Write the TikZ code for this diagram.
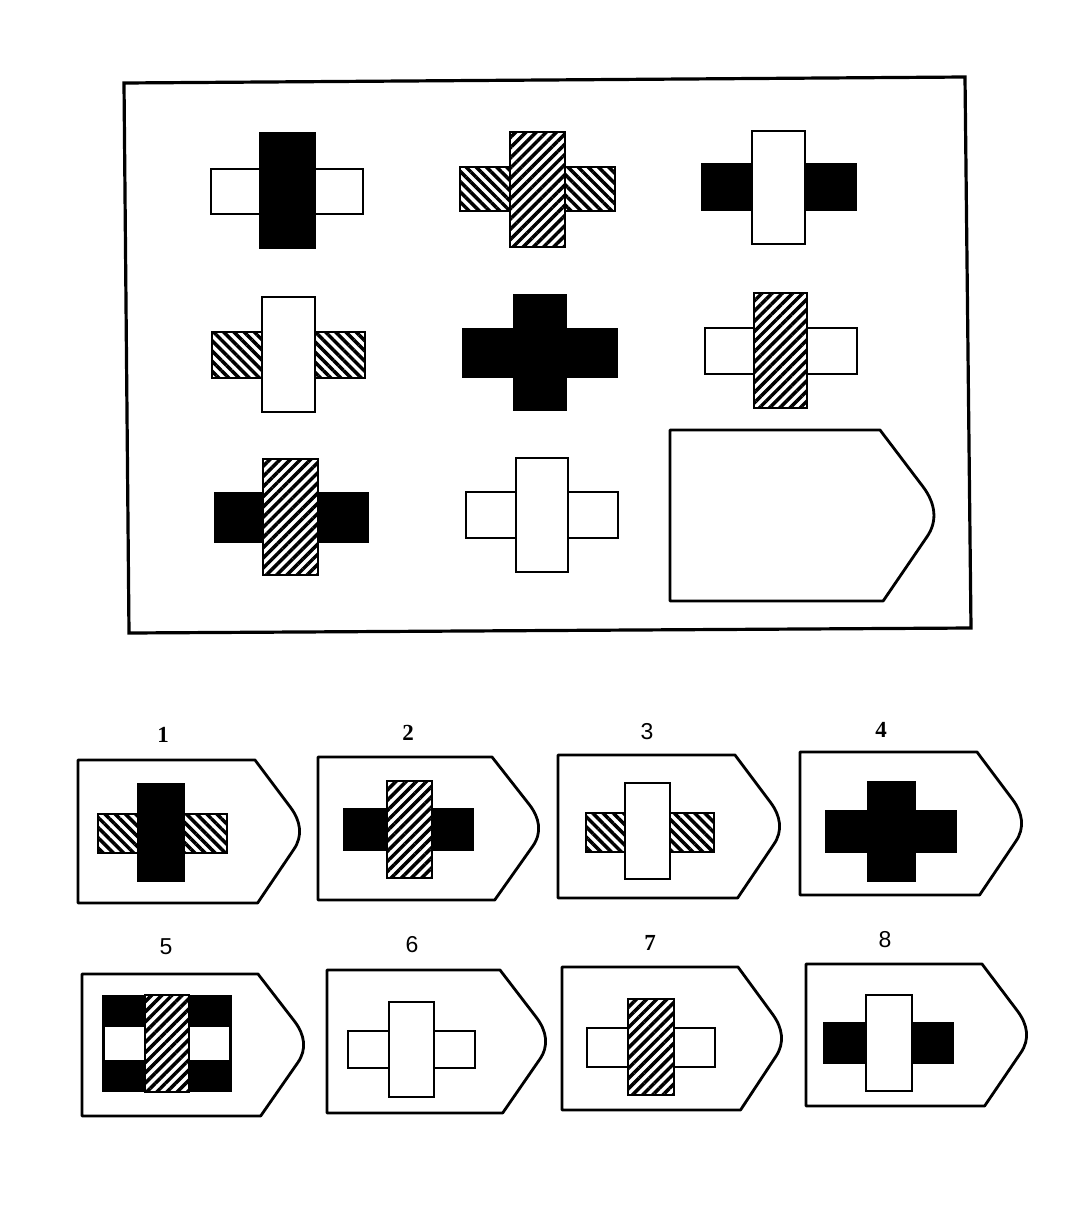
\documentclass[tikz,border=0pt]{standalone}
\usepackage{fontspec}
\setmainfont{Liberation Serif}
\setsansfont{Liberation Sans}
\usetikzlibrary{patterns.meta}
\newcommand\tagshape[5]{%
 \draw[tagline] (#1,#2) -- ({#1+#3},#2) -- ({#1+#3+0.83*#5},{#2+0.333*#4})
   .. controls ({#1+#3+1.06*#5},{#2+0.427*#4}) and ({#1+#3+1.12*#5},{#2+0.53*#4}) ..
   ({#1+#3+0.9*#5},{#2+0.626*#4}) -- ({#1+#3+0.06*#5},{#2+#4}) -- (#1,{#2+#4}) -- cycle;}
\newcommand\crossfig[6]{%
 \draw[#1] (#2) rectangle (#3);
 \draw[#4] (#5) rectangle (#6);}
\begin{document}
\begin{tikzpicture}[x=1pt,y=-1pt,
  tagline/.style={line width=2.8pt, line join=round, fill=white},
  bar/.style={line width=2.7pt},
  wb/.style={bar, fill=white},
  bb/.style={bar, fill=black},
  hh/.style={bar, preaction={fill=white}, pattern={Lines[angle=-45,distance=7.2pt,line width=3.5pt]}},
  hv/.style={bar, preaction={fill=white}, pattern={Lines[angle=45,distance=7.2pt,line width=3.5pt]}},
  lblserif/.style={font=\fontsize{23}{27}\selectfont\bfseries, inner sep=0pt},
  lblsans/.style={font=\fontsize{23}{27}\selectfont\sffamily, inner sep=0pt}]
\useasboundingbox (0,0) rectangle (1074,1208);
\fill[white] (0,0) rectangle (1074,1208);
% main frame
\draw[line width=3.2pt, line join=miter] (124,83) -- (965,77) -- (971,628) -- (129,633) -- cycle;
% main grid
\crossfig{wb}{211,169}{363,214}{bb}{260,133}{315,248}
\crossfig{hh}{460,167}{615,211}{hv}{510,132}{565,247}
\crossfig{bb}{702,164}{856,210}{wb}{752,131}{805,244}
\crossfig{hh}{212,332}{365,378}{wb}{262,297}{315,412}
\crossfig{bb}{463,329}{617,377}{bb}{514,295}{566,410}
\crossfig{wb}{705,328}{857,374}{hv}{754,293}{807,408}
\crossfig{bb}{215,493}{368,542}{hv}{263,459}{318,575}
\crossfig{wb}{466,492}{618,538}{wb}{516,458}{568,572}
\tagshape{670}{430}{210}{171}{52}
% options
\tagshape{78}{760}{177}{143}{43}
\tagshape{318}{757}{174}{143}{45}
\tagshape{558}{755}{177}{143}{43}
\tagshape{800}{752}{177}{143}{43}
\tagshape{82}{974}{176}{142}{44}
\tagshape{327}{970}{173}{143}{44}
\tagshape{562}{967}{176}{143}{42}
\tagshape{806}{964}{176}{142}{43}
\crossfig{hh}{98,814}{227,853}{bb}{138,784}{184,881}
\crossfig{bb}{344,809}{473,850}{hv}{387,781}{432,878}
\crossfig{hh}{586,813}{714,852}{wb}{625,783}{670,879}
\crossfig{bb}{826,811}{956,852}{bb}{868,782}{915,881}
\fill (102,995) rectangle (232,1092);
\fill[white] (105,1027) rectangle (145,1060);
\fill[white] (189,1027) rectangle (229,1060);
\draw[hv] (145,995) rectangle (189,1092);
\crossfig{wb}{348,1031}{475,1068}{wb}{389,1002}{434,1097}
\crossfig{wb}{587,1028}{715,1067}{hv}{628,999}{674,1095}
\crossfig{bb}{824,1023}{953,1063}{wb}{866,995}{912,1091}
% labels
\node[lblserif] (l1) at (163,735) {1};
\node[lblserif] (l2) at (408,733) {2};
\node[lblsans] (l3) at (647,732) {3};
\node[lblserif] (l4) at (881,730) {4};
\node[lblsans] (l5) at (166,947) {5};
\node[lblsans] (l6) at (412,945) {6};
\node[lblserif] (l7) at (650,943) {7};
\node[lblsans] (l8) at (885,940) {8};
\end{tikzpicture}
\end{document}
